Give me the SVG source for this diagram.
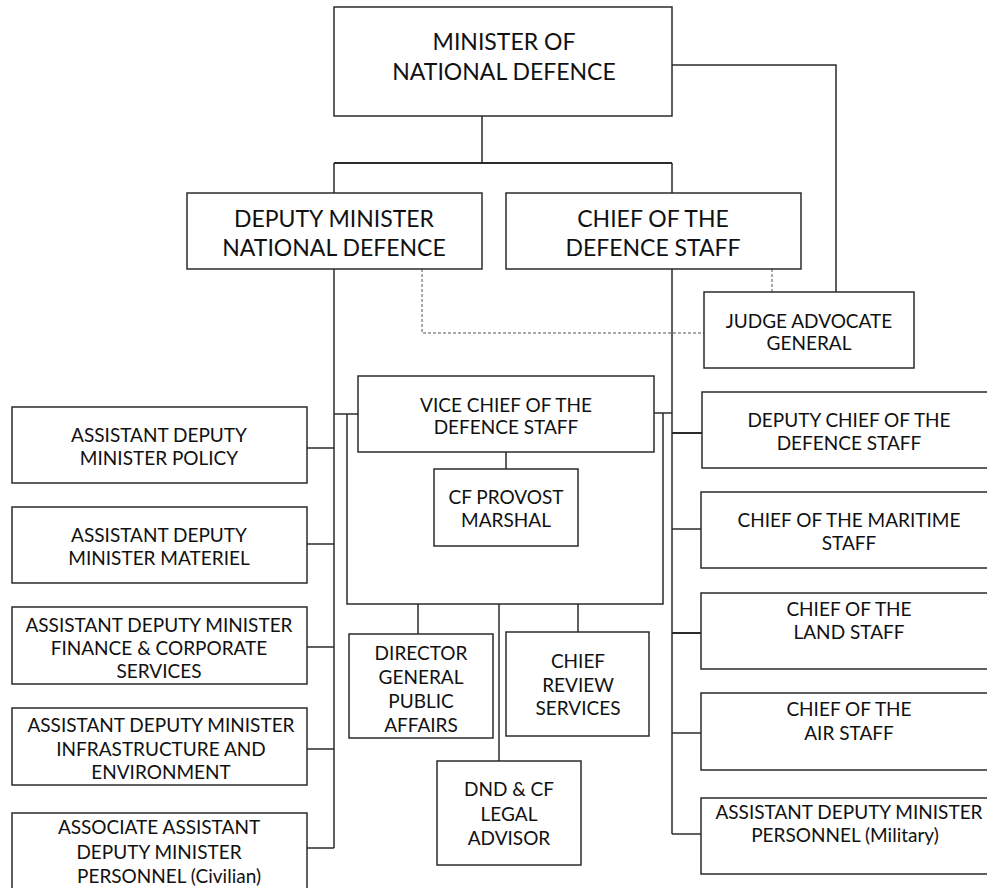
<svg xmlns="http://www.w3.org/2000/svg" width="987" height="888" viewBox="0 0 987 888">
<style>
  .box { fill: #ffffff; stroke: #2b2b2b; stroke-width: 1.5; }
  .ln { fill: none; stroke: #2b2b2b; stroke-width: 1.5; }
  .thick { stroke-width: 2; }
  .dash { fill: none; stroke: #555; stroke-width: 1; stroke-dasharray: 3 2; }
  text { font-family: Lato, "Liberation Sans", sans-serif; fill: #111; text-anchor: middle; }
  .big { font-size: 23px; }
  .sm { font-size: 19px; }
</style>
<rect width="987" height="888" fill="#ffffff"/>
<g id="connectors">
  <line class="ln" x1="482" y1="116" x2="482" y2="163"/>
  <line class="ln thick" x1="334" y1="163" x2="672" y2="163"/>
  <line class="ln" x1="334" y1="163" x2="334" y2="848"/>
  <line class="ln" x1="672" y1="163" x2="672" y2="834"/>
  <polyline class="ln" points="672,65 836,65 836,292"/>
  <polyline class="dash" points="422,269 422,333 704,333"/>
  <line class="dash" x1="772" y1="269" x2="772" y2="292"/>
  <line class="ln" x1="307" y1="448" x2="334" y2="448"/>
  <line class="ln" x1="307" y1="544" x2="334" y2="544"/>
  <line class="ln" x1="307" y1="647" x2="334" y2="647"/>
  <line class="ln" x1="307" y1="749" x2="334" y2="749"/>
  <line class="ln" x1="307" y1="848" x2="334" y2="848"/>
  <line class="ln" x1="334" y1="414" x2="358" y2="414"/>
  <line class="ln" x1="654" y1="413" x2="672" y2="413"/>
  <polyline class="ln" points="347,414 347,604 663,604 663,413"/>
  <line class="ln" x1="506" y1="452" x2="506" y2="469"/>
  <line class="ln" x1="418" y1="604" x2="418" y2="634"/>
  <line class="ln" x1="499" y1="604" x2="499" y2="761"/>
  <line class="ln" x1="578" y1="604" x2="578" y2="632"/>
  <line class="ln thick" x1="672" y1="433" x2="702" y2="433"/>
  <line class="ln" x1="672" y1="529" x2="702" y2="529"/>
  <line class="ln thick" x1="672" y1="633" x2="702" y2="633"/>
  <line class="ln" x1="672" y1="733" x2="702" y2="733"/>
  <line class="ln" x1="672" y1="834" x2="702" y2="834"/>
</g>
<g id="minister">
  <rect class="box" x="334" y="7" width="338" height="109"/>
  <text class="big" x="504" y="50">MINISTER OF</text>
  <text class="big" x="504" y="80">NATIONAL DEFENCE</text>
</g>
<g id="deputy-minister">
  <rect class="box" x="187" y="193" width="295" height="76"/>
  <text class="big" x="334" y="227">DEPUTY MINISTER</text>
  <text class="big" x="334" y="256">NATIONAL DEFENCE</text>
</g>
<g id="cds">
  <rect class="box" x="506" y="193" width="295" height="76"/>
  <text class="big" x="653" y="227">CHIEF OF THE</text>
  <text class="big" x="653" y="256">DEFENCE STAFF</text>
</g>
<g id="jag">
  <rect class="box" x="704" y="292" width="210" height="76"/>
  <text class="sm" x="809" y="328">JUDGE ADVOCATE</text>
  <text class="sm" x="809" y="350">GENERAL</text>
</g>
<g id="vcds">
  <rect class="box" x="358" y="376" width="296" height="76"/>
  <text class="sm" x="506" y="412">VICE CHIEF OF THE</text>
  <text class="sm" x="506" y="434">DEFENCE STAFF</text>
</g>
<g id="provost">
  <rect class="box" x="434" y="469" width="144" height="77"/>
  <text class="sm" x="506" y="504">CF PROVOST</text>
  <text class="sm" x="506" y="527">MARSHAL</text>
</g>
<g id="dgpa">
  <rect class="box" x="349" y="634" width="144" height="104"/>
  <text class="sm" x="421" y="660">DIRECTOR</text>
  <text class="sm" x="421" y="684">GENERAL</text>
  <text class="sm" x="421" y="708">PUBLIC</text>
  <text class="sm" x="421" y="732">AFFAIRS</text>
</g>
<g id="crs">
  <rect class="box" x="506" y="632" width="143" height="104"/>
  <text class="sm" x="578" y="668">CHIEF</text>
  <text class="sm" x="578" y="692">REVIEW</text>
  <text class="sm" x="578" y="715">SERVICES</text>
</g>
<g id="legal">
  <rect class="box" x="437" y="761" width="144" height="104"/>
  <text class="sm" x="509" y="796">DND &amp; CF</text>
  <text class="sm" x="509" y="821">LEGAL</text>
  <text class="sm" x="509" y="845">ADVISOR</text>
</g>
<g id="adm-policy">
  <rect class="box" x="12" y="407" width="295" height="76"/>
  <text class="sm" x="159" y="442">ASSISTANT DEPUTY</text>
  <text class="sm" x="159" y="465">MINISTER POLICY</text>
</g>
<g id="adm-materiel">
  <rect class="box" x="12" y="507" width="295" height="76"/>
  <text class="sm" x="159" y="542">ASSISTANT DEPUTY</text>
  <text class="sm" x="159" y="565">MINISTER MATERIEL</text>
</g>
<g id="adm-finance">
  <rect class="box" x="12" y="607" width="295" height="77"/>
  <text class="sm" x="159" y="632">ASSISTANT DEPUTY MINISTER</text>
  <text class="sm" x="159" y="655">FINANCE &amp; CORPORATE</text>
  <text class="sm" x="159" y="678">SERVICES</text>
</g>
<g id="adm-ie">
  <rect class="box" x="12" y="708" width="295" height="77"/>
  <text class="sm" x="161" y="732">ASSISTANT DEPUTY MINISTER</text>
  <text class="sm" x="161" y="756">INFRASTRUCTURE AND</text>
  <text class="sm" x="161" y="779">ENVIRONMENT</text>
</g>
<g id="assoc-adm-per">
  <rect class="box" x="12" y="813" width="295" height="80"/>
  <text class="sm" x="159" y="834">ASSOCIATE ASSISTANT</text>
  <text class="sm" x="159" y="859">DEPUTY MINISTER</text>
  <text class="sm" x="169" y="883">PERSONNEL (Civilian)</text>
</g>
<g id="dcds">
  <rect class="box" x="702" y="392" width="294" height="76"/>
  <text class="sm" x="849" y="427">DEPUTY CHIEF OF THE</text>
  <text class="sm" x="849" y="450">DEFENCE STAFF</text>
</g>
<g id="cms">
  <rect class="box" x="701" y="492" width="295" height="76"/>
  <text class="sm" x="849" y="527">CHIEF OF THE MARITIME</text>
  <text class="sm" x="849" y="550">STAFF</text>
</g>
<g id="cls">
  <rect class="box" x="701" y="593" width="295" height="76"/>
  <text class="sm" x="849" y="616">CHIEF OF THE</text>
  <text class="sm" x="849" y="639">LAND STAFF</text>
</g>
<g id="cas">
  <rect class="box" x="701" y="693" width="295" height="77"/>
  <text class="sm" x="849" y="716">CHIEF OF THE</text>
  <text class="sm" x="849" y="740">AIR STAFF</text>
</g>
<g id="adm-per-mil">
  <rect class="box" x="701" y="798" width="295" height="76"/>
  <text class="sm" x="849" y="819">ASSISTANT DEPUTY MINISTER</text>
  <text class="sm" x="845" y="842">PERSONNEL (Military)</text>
</g>
</svg>
